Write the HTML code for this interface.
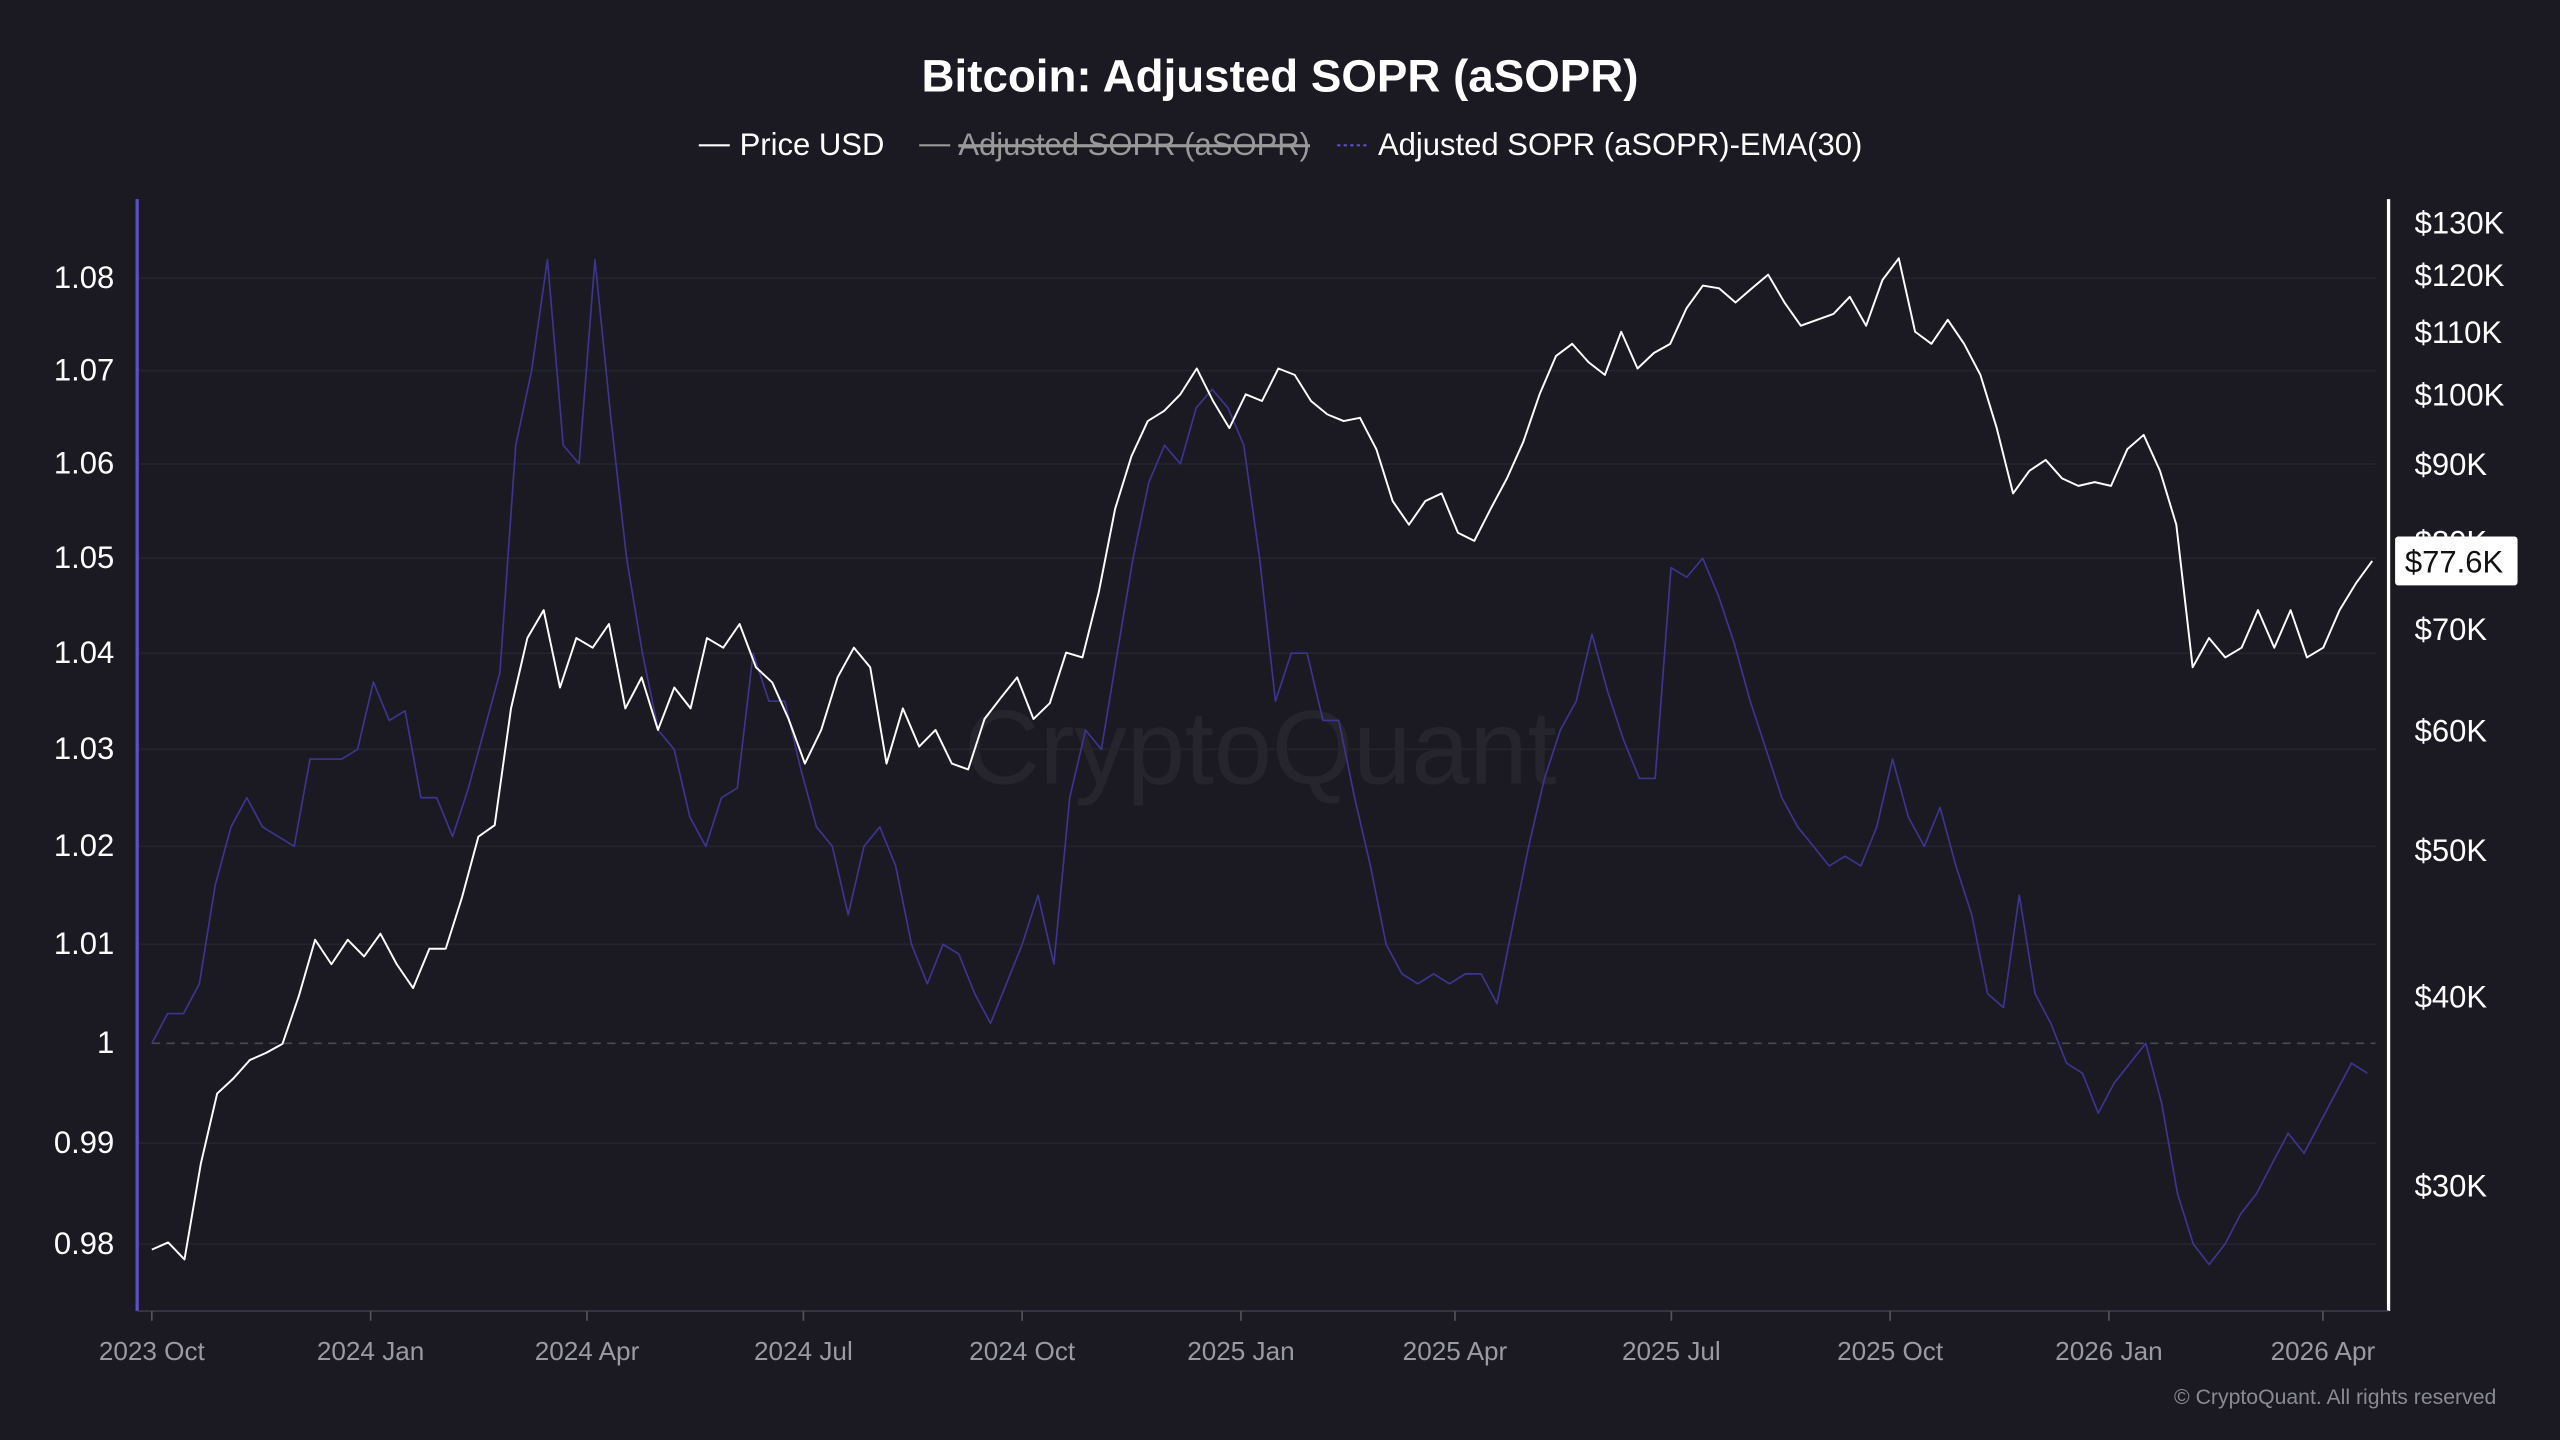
<!DOCTYPE html>
<html><head><meta charset="utf-8"><style>
html,body{margin:0;padding:0;background:#1b1a22;}
svg{display:block;font-family:"Liberation Sans",sans-serif;}
</style></head><body>
<svg id="chart" width="2560" height="1440" viewBox="0 0 1568 882" xmlns="http://www.w3.org/2000/svg">
<rect width="1568" height="882" fill="#1b1a22"/>
<text x="784" y="56" text-anchor="middle" fill="#ffffff" font-size="28" font-weight="bold">Bitcoin: Adjusted SOPR (aSOPR)</text>
<g font-size="19">
  <g>
    <line x1="428" y1="89" x2="447" y2="89" stroke="#fff" stroke-width="1.3"/>
    <text x="453" y="95" fill="#fff">Price USD</text>
  </g>
  <g>
    <line x1="563" y1="89" x2="582" y2="89" stroke="#999" stroke-width="1.3"/>
    <text x="587" y="95" fill="#999" text-decoration="line-through">Adjusted SOPR (aSOPR)</text>
    <line x1="587" y1="89" x2="796" y2="89" stroke="#999" stroke-width="1.2"/>
  </g>
  <g>
    <line x1="819" y1="89" x2="838" y2="89" stroke="#5a4fc0" stroke-width="1.3" stroke-dasharray="2,2"/>
    <text x="844" y="95" fill="#fff">Adjusted SOPR (aSOPR)-EMA(30)</text>
  </g>
</g>
<text x="772" y="480" text-anchor="middle" fill="#ffffff" fill-opacity="0.05" font-size="64">CryptoQuant</text>
<g id="grid"></g>
<g id="leftAxis"></g>
<g id="rightAxis"></g>
<g id="xAxis"></g>
<g id="series"></g>
<text x="1529" y="860" text-anchor="end" fill="#8a8a94" font-size="13">© CryptoQuant. All rights reserved</text>
</svg>
<script>
const soprTicks = [1.08,1.07,1.06,1.05,1.04,1.03,1.02,1.01,1,0.99,0.98];
const soprTickLabels = ["1.08","1.07","1.06","1.05","1.04","1.03","1.02","1.01","1","0.99","0.98"];
const priceTicks = [130,120,110,100,90,80,70,60,50,40,30];
const priceTickLabels = ["$130K","$120K","$110K","$100K","$90K","$80K","$70K","$60K","$50K","$40K","$30K"];
const xTickLabels = ["2023 Oct","2024 Jan","2024 Apr","2024 Jul","2024 Oct","2025 Jan","2025 Apr","2025 Jul","2025 Oct","2026 Jan","2026 Apr"];
const xTickDays = [0,92,183,274,366,458,548,639,731,823,913];
const lastPriceLabel = "$77.6K";
const lastPrice = 77.6;
const priceUSD = [27.2,27.5,26.8,31,34.5,35.3,36.3,36.7,37.2,40,43.6,42,43.6,42.5,44,42,40.5,43,43,46.5,51,51.9,62,69,72,64,69,68,70.5,62,65,60,64,62,69,68,70.5,66,64.5,61,57,60,65,68,66,57,62,58.5,60,57,56.5,61,63,65,61,62.5,67.5,67,74,84,91,96,97.5,100,104,99,95,100,99,104,103,99,97,96,96.5,92,85,82,85,86,81,80,84,88,93,100,106,108,105,103,110,104,106.5,108,114,118,117.5,115,117.5,120,115,111,112,113,116,111,119,123,110,108,112,108,103,95,86,89,90.5,88,87,87.5,87,92,94,89,82,66,69,67,68,72,68,72,67,68,72,75,77.6];
const soprEMA = [1.000,1.003,1.003,1.006,1.016,1.022,1.025,1.022,1.021,1.020,1.029,1.029,1.029,1.030,1.037,1.033,1.034,1.025,1.025,1.021,1.026,1.032,1.038,1.062,1.070,1.082,1.062,1.060,1.082,1.065,1.050,1.040,1.032,1.030,1.023,1.020,1.025,1.026,1.040,1.035,1.035,1.028,1.022,1.020,1.013,1.020,1.022,1.018,1.010,1.006,1.010,1.009,1.005,1.002,1.006,1.010,1.015,1.008,1.025,1.032,1.030,1.040,1.050,1.058,1.062,1.060,1.066,1.068,1.066,1.062,1.050,1.035,1.040,1.040,1.033,1.033,1.025,1.018,1.010,1.007,1.006,1.007,1.006,1.007,1.007,1.004,1.012,1.020,1.027,1.032,1.035,1.042,1.036,1.031,1.027,1.027,1.049,1.048,1.050,1.046,1.041,1.035,1.030,1.025,1.022,1.020,1.018,1.019,1.018,1.022,1.029,1.023,1.020,1.024,1.018,1.013,1.005,1.0036,1.015,1.005,1.002,0.998,0.997,0.993,0.996,0.998,1.000,0.994,0.985,0.980,0.978,0.980,0.983,0.985,0.988,0.991,0.989,0.992,0.995,0.998,0.997];

const NS="http://www.w3.org/2000/svg";
const X0=93, PX_PER_DAY=1.4565, X_END_PRICE=1453, X_END_EMA=1450;
const L=84, R=1463, T=122, B=803;
function ySopr(v){return 639-6090*Math.log(v);}
function yPrice(p){return 726-402.4*Math.log(p/30);}
function xDay(d){return X0+d*PX_PER_DAY;}
function mk(tag,attrs,parent){const e=document.createElementNS(NS,tag);for(const k in attrs)e.setAttribute(k,attrs[k]);parent.appendChild(e);return e;}

const grid=document.getElementById('grid');
const la=document.getElementById('leftAxis');
const ra=document.getElementById('rightAxis');
const xa=document.getElementById('xAxis');
const ser=document.getElementById('series');

soprTicks.forEach((v,i)=>{
  const y=ySopr(v);
  if(v!==1){
    const g=mk('line',{x1:L,x2:1455,y1:y,y2:y,stroke:'#25242d','stroke-width':1},grid);
    
    
  }
  const t=mk('text',{x:70,y:y+6,'text-anchor':'end',fill:'#ffffff','font-size':19},la);
  t.textContent=soprTickLabels[i];
  
  
});
const base=mk('line',{x1:93,x2:1455,y1:ySopr(1),y2:ySopr(1),stroke:'#4a4954','stroke-width':1,'stroke-dasharray':'5,4'},grid);


const lax=mk('line',{x1:L,x2:L,y1:T,y2:B,stroke:'#5b4fd0','stroke-width':2},la);


const rax=mk('line',{x1:R,x2:R,y1:T,y2:B,stroke:'#ffffff','stroke-width':2},ra);


const bax=mk('line',{x1:L,x2:R,y1:B,y2:B,stroke:'#3a3944','stroke-width':1},xa);



priceTicks.forEach((p,i)=>{
  const t=mk('text',{x:1479,y:yPrice(p)+7,fill:'#ffffff','font-size':19},ra);
  t.textContent=priceTickLabels[i];
  
  
});

xTickDays.forEach((d,i)=>{
  const x=xDay(d);
  const tk=mk('line',{x1:x,x2:x,y1:B,y2:B+6,stroke:'#55545e','stroke-width':1},xa);
  
  
  const t=mk('text',{x:x,y:833,'text-anchor':'middle',fill:'#9a9aa4','font-size':16},xa);
  t.textContent=xTickLabels[i];
  
  
});

function path(arr,yf,xEnd){
  const step=(xEnd-X0)/(arr.length-1);
  return arr.map((v,i)=>(i?'L':'M')+(X0+i*step).toFixed(1)+','+yf(v).toFixed(1)).join(' ');
}
const ema=mk('path',{d:path(soprEMA,ySopr,X_END_EMA),fill:'none',stroke:'#3d3590','stroke-width':1,'stroke-linejoin':'round'},ser);


const pr=mk('path',{d:path(priceUSD,yPrice,X_END_PRICE),fill:'none',stroke:'#ffffff','stroke-width':1.2,'stroke-linejoin':'round'},ser);



const ly=yPrice(lastPrice);
const badge=mk('rect',{x:1467,y:ly-15,width:75,height:30,rx:2,fill:'#ffffff'},ra);


const bt=mk('text',{x:1473,y:ly+7,fill:'#111','font-size':19},ra);
bt.textContent=lastPriceLabel;


</script>
</body></html>
